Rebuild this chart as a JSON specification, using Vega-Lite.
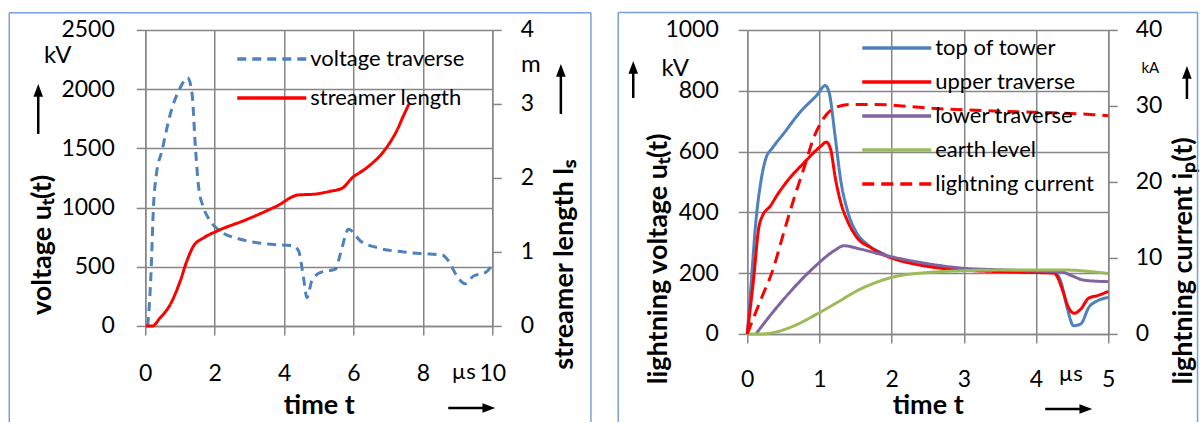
{
  "$schema": "https://vega.github.io/schema/vega-lite/v6.json",
  "autosize": {"type": "pad"},
  "padding": {"left": 8.25, "top": 10.95, "right": 1, "bottom": 1},
  "background": "white",
  "bounds": "flush",
  "spacing": 255,
  "resolve": {"scale": {"color": "independent", "strokeDash": "independent", "shape": "independent"}},
  "config": {
    "font": "Lato",
    "view": {"stroke": null},
    "axis": {"labelFont": "Lato", "labelFontSize": 23, "labelColor": "#000000", "labelFlush": false, "labelOverlap": false,
      "titleFont": "Lato", "titleFontSize": 27, "titleFontWeight": "bold", "titleColor": "#000000",
      "domainColor": "#868686", "domainWidth": 1.5, "tickColor": "#868686", "tickWidth": 1.5, "tickSize": 9,
      "gridColor": "#868686", "gridWidth": 1.5, "gridOpacity": 1},
    "legend": {"labelFont": "Lato", "labelFontSize": 22, "labelColor": "#000000"},
    "text": {"font": "Lato", "color": "#000000"}
  },
  "datasets": {
    "left": [
      {"t": 0.07, "value": 0, "series": "voltage traverse"},
      {"t": 0.1, "value": 100, "series": "voltage traverse"},
      {"t": 0.16, "value": 408, "series": "voltage traverse"},
      {"t": 0.24, "value": 1028, "series": "voltage traverse"},
      {"t": 0.32, "value": 1281, "series": "voltage traverse"},
      {"t": 0.48, "value": 1478, "series": "voltage traverse"},
      {"t": 0.72, "value": 1788, "series": "voltage traverse"},
      {"t": 1.01, "value": 2013, "series": "voltage traverse"},
      {"t": 1.22, "value": 2097, "series": "voltage traverse"},
      {"t": 1.35, "value": 1957, "series": "voltage traverse"},
      {"t": 1.44, "value": 1535, "series": "voltage traverse"},
      {"t": 1.54, "value": 1168, "series": "voltage traverse"},
      {"t": 1.68, "value": 999, "series": "voltage traverse"},
      {"t": 1.87, "value": 887, "series": "voltage traverse"},
      {"t": 2.16, "value": 802, "series": "voltage traverse"},
      {"t": 2.74, "value": 732, "series": "voltage traverse"},
      {"t": 3.41, "value": 695, "series": "voltage traverse"},
      {"t": 4.27, "value": 676, "series": "voltage traverse"},
      {"t": 4.42, "value": 633, "series": "voltage traverse"},
      {"t": 4.56, "value": 408, "series": "voltage traverse"},
      {"t": 4.66, "value": 239, "series": "voltage traverse"},
      {"t": 4.8, "value": 380, "series": "voltage traverse"},
      {"t": 5.04, "value": 450, "series": "voltage traverse"},
      {"t": 5.48, "value": 479, "series": "voltage traverse"},
      {"t": 5.62, "value": 605, "series": "voltage traverse"},
      {"t": 5.86, "value": 817, "series": "voltage traverse"},
      {"t": 6.2, "value": 718, "series": "voltage traverse"},
      {"t": 6.68, "value": 661, "series": "voltage traverse"},
      {"t": 7.44, "value": 625, "series": "voltage traverse"},
      {"t": 7.93, "value": 611, "series": "voltage traverse"},
      {"t": 8.55, "value": 600, "series": "voltage traverse"},
      {"t": 8.74, "value": 549, "series": "voltage traverse"},
      {"t": 8.98, "value": 422, "series": "voltage traverse"},
      {"t": 9.22, "value": 357, "series": "voltage traverse"},
      {"t": 9.46, "value": 422, "series": "voltage traverse"},
      {"t": 9.8, "value": 450, "series": "voltage traverse"},
      {"t": 10, "value": 515, "series": "voltage traverse"},
      {"t": 0.02, "value": 0, "series": "streamer length"},
      {"t": 0.2, "value": 0, "series": "streamer length"},
      {"t": 0.43, "value": 0.11, "series": "streamer length"},
      {"t": 0.72, "value": 0.29, "series": "streamer length"},
      {"t": 1.01, "value": 0.61, "series": "streamer length"},
      {"t": 1.2, "value": 0.88, "series": "streamer length"},
      {"t": 1.39, "value": 1.08, "series": "streamer length"},
      {"t": 1.68, "value": 1.19, "series": "streamer length"},
      {"t": 2.06, "value": 1.28, "series": "streamer length"},
      {"t": 2.93, "value": 1.44, "series": "streamer length"},
      {"t": 3.79, "value": 1.62, "series": "streamer length"},
      {"t": 4.41, "value": 1.77, "series": "streamer length"},
      {"t": 4.85, "value": 1.78, "series": "streamer length"},
      {"t": 5.33, "value": 1.82, "series": "streamer length"},
      {"t": 5.67, "value": 1.86, "series": "streamer length"},
      {"t": 5.96, "value": 2.0, "series": "streamer length"},
      {"t": 6.39, "value": 2.14, "series": "streamer length"},
      {"t": 6.92, "value": 2.39, "series": "streamer length"},
      {"t": 7.25, "value": 2.64, "series": "streamer length"},
      {"t": 7.46, "value": 2.86, "series": "streamer length"},
      {"t": 7.6, "value": 3.0, "series": "streamer length"}
    ],
    "right": [
      {"t": 0, "value": 0, "series": "top of tower"},
      {"t": 0.05, "value": 153, "series": "top of tower"},
      {"t": 0.12, "value": 371, "series": "top of tower"},
      {"t": 0.19, "value": 503, "series": "top of tower"},
      {"t": 0.26, "value": 579, "series": "top of tower"},
      {"t": 0.35, "value": 612, "series": "top of tower"},
      {"t": 0.51, "value": 661, "series": "top of tower"},
      {"t": 0.74, "value": 732, "series": "top of tower"},
      {"t": 0.97, "value": 787, "series": "top of tower"},
      {"t": 1.08, "value": 817, "series": "top of tower"},
      {"t": 1.13, "value": 798, "series": "top of tower"},
      {"t": 1.22, "value": 645, "series": "top of tower"},
      {"t": 1.29, "value": 513, "series": "top of tower"},
      {"t": 1.39, "value": 404, "series": "top of tower"},
      {"t": 1.5, "value": 339, "series": "top of tower"},
      {"t": 1.66, "value": 295, "series": "top of tower"},
      {"t": 1.85, "value": 268, "series": "top of tower"},
      {"t": 2.0, "value": 252, "series": "top of tower"},
      {"t": 2.5, "value": 225, "series": "top of tower"},
      {"t": 3.0, "value": 212, "series": "top of tower"},
      {"t": 3.5, "value": 207, "series": "top of tower"},
      {"t": 4.0, "value": 204, "series": "top of tower"},
      {"t": 4.25, "value": 202, "series": "top of tower"},
      {"t": 4.34, "value": 175, "series": "top of tower"},
      {"t": 4.43, "value": 87, "series": "top of tower"},
      {"t": 4.52, "value": 27, "series": "top of tower"},
      {"t": 4.62, "value": 33, "series": "top of tower"},
      {"t": 4.73, "value": 87, "series": "top of tower"},
      {"t": 4.85, "value": 109, "series": "top of tower"},
      {"t": 5.0, "value": 120, "series": "top of tower"},
      {"t": 0, "value": 0, "series": "upper traverse"},
      {"t": 0.09, "value": 186, "series": "upper traverse"},
      {"t": 0.16, "value": 350, "series": "upper traverse"},
      {"t": 0.21, "value": 388, "series": "upper traverse"},
      {"t": 0.32, "value": 421, "series": "upper traverse"},
      {"t": 0.42, "value": 459, "series": "upper traverse"},
      {"t": 0.555, "value": 503, "series": "upper traverse"},
      {"t": 0.785, "value": 563, "series": "upper traverse"},
      {"t": 1.016, "value": 617, "series": "upper traverse"},
      {"t": 1.095, "value": 631, "series": "upper traverse"},
      {"t": 1.155, "value": 607, "series": "upper traverse"},
      {"t": 1.22, "value": 513, "series": "upper traverse"},
      {"t": 1.29, "value": 437, "series": "upper traverse"},
      {"t": 1.39, "value": 371, "series": "upper traverse"},
      {"t": 1.52, "value": 317, "series": "upper traverse"},
      {"t": 1.71, "value": 284, "series": "upper traverse"},
      {"t": 1.85, "value": 264, "series": "upper traverse"},
      {"t": 2.0, "value": 250, "series": "upper traverse"},
      {"t": 2.5, "value": 222, "series": "upper traverse"},
      {"t": 3.0, "value": 210, "series": "upper traverse"},
      {"t": 3.5, "value": 205, "series": "upper traverse"},
      {"t": 4.0, "value": 202, "series": "upper traverse"},
      {"t": 4.25, "value": 200, "series": "upper traverse"},
      {"t": 4.29, "value": 190, "series": "upper traverse"},
      {"t": 4.37, "value": 142, "series": "upper traverse"},
      {"t": 4.45, "value": 87, "series": "upper traverse"},
      {"t": 4.53, "value": 68, "series": "upper traverse"},
      {"t": 4.62, "value": 82, "series": "upper traverse"},
      {"t": 4.73, "value": 118, "series": "upper traverse"},
      {"t": 4.85, "value": 126, "series": "upper traverse"},
      {"t": 5.0, "value": 140, "series": "upper traverse"},
      {"t": 0.12, "value": 0, "series": "lower traverse"},
      {"t": 0.37, "value": 76, "series": "lower traverse"},
      {"t": 0.65, "value": 153, "series": "lower traverse"},
      {"t": 0.92, "value": 218, "series": "lower traverse"},
      {"t": 1.2, "value": 273, "series": "lower traverse"},
      {"t": 1.34, "value": 290, "series": "lower traverse"},
      {"t": 1.57, "value": 279, "series": "lower traverse"},
      {"t": 1.85, "value": 262, "series": "lower traverse"},
      {"t": 2.4, "value": 235, "series": "lower traverse"},
      {"t": 3.0, "value": 216, "series": "lower traverse"},
      {"t": 3.5, "value": 211, "series": "lower traverse"},
      {"t": 4.02, "value": 207, "series": "lower traverse"},
      {"t": 4.34, "value": 205, "series": "lower traverse"},
      {"t": 4.5, "value": 191, "series": "lower traverse"},
      {"t": 4.66, "value": 177, "series": "lower traverse"},
      {"t": 5.0, "value": 172, "series": "lower traverse"},
      {"t": 0, "value": 0, "series": "earth level"},
      {"t": 0.19, "value": 0, "series": "earth level"},
      {"t": 0.37, "value": 5, "series": "earth level"},
      {"t": 0.65, "value": 27, "series": "earth level"},
      {"t": 0.97, "value": 66, "series": "earth level"},
      {"t": 1.25, "value": 104, "series": "earth level"},
      {"t": 1.52, "value": 142, "series": "earth level"},
      {"t": 1.85, "value": 175, "series": "earth level"},
      {"t": 2.0, "value": 186, "series": "earth level"},
      {"t": 2.5, "value": 202, "series": "earth level"},
      {"t": 3.0, "value": 208, "series": "earth level"},
      {"t": 3.5, "value": 210, "series": "earth level"},
      {"t": 4.0, "value": 210, "series": "earth level"},
      {"t": 4.45, "value": 210, "series": "earth level"},
      {"t": 4.8, "value": 204, "series": "earth level"},
      {"t": 5.0, "value": 199, "series": "earth level"},
      {"t": 0, "value": 0, "series": "lightning current"},
      {"t": 0.2, "value": 4.8, "series": "lightning current"},
      {"t": 0.35, "value": 8.3, "series": "lightning current"},
      {"t": 0.51, "value": 13.5, "series": "lightning current"},
      {"t": 0.65, "value": 17.9, "series": "lightning current"},
      {"t": 0.785, "value": 21.8, "series": "lightning current"},
      {"t": 0.92, "value": 25.8, "series": "lightning current"},
      {"t": 1.06, "value": 28.4, "series": "lightning current"},
      {"t": 1.2, "value": 29.7, "series": "lightning current"},
      {"t": 1.43, "value": 30.2, "series": "lightning current"},
      {"t": 1.75, "value": 30.2, "series": "lightning current"},
      {"t": 2.54, "value": 29.7, "series": "lightning current"},
      {"t": 3.5, "value": 29.3, "series": "lightning current"},
      {"t": 4.8, "value": 28.85, "series": "lightning current"},
      {"t": 5.0, "value": 28.7, "series": "lightning current"}
    ],
    "leftBorder": [
      {"t": -3.919, "t2": -3.919, "value": -811, "value2": 2646},
      {"t": -3.919, "t2": 12.844, "value": 2646, "value2": 2646},
      {"t": 12.844, "t2": 12.844, "value": -811, "value2": 2646}
    ],
    "leftArrows": [
      {"t": -3.084, "t2": -3.084, "value": 1622, "value2": 1985},
      {"t": 11.977, "t2": 11.977, "value": 1791, "value2": 2145},
      {"t": 8.732, "t2": 9.885, "value": -692.6, "value2": -692.6}
    ],
    "leftHeads": [
      {"t": -3.084, "value": 1976, "dir": "up"},
      {"t": 11.977, "value": 2145, "dir": "up"},
      {"t": 9.856, "value": -692.6, "dir": "right"}
    ],
    "leftUnits": [
      {"t": -2.522, "value": 2280, "text": "kV"},
      {"t": 11.11, "value": 2200, "text": "m"}
    ],
    "leftTimeUnit": [
      {"t": 9.179, "value": -392.7, "text": "µs"}
    ],
    "rightBorder": [
      {"t": -1.787, "t2": -1.787, "value": -289.5, "value2": 1057},
      {"t": -1.787, "t2": 6.237, "value": 1057, "value2": 1057},
      {"t": 6.237, "t2": 6.237, "value": -289.5, "value2": 1057}
    ],
    "rightArrows": [
      {"t": -1.579, "t2": -1.579, "value": 776.3, "value2": 871.7},
      {"t": 6.09, "t2": 6.09, "value": 773, "value2": 855.3},
      {"t": 4.127, "t2": 4.681, "value": -246.7, "value2": -246.7}
    ],
    "rightHeads": [
      {"t": -1.579, "value": 871.7, "dir": "up"},
      {"t": 6.09, "value": 855.3, "dir": "up"},
      {"t": 4.668, "value": -246.7, "dir": "right"}
    ],
    "rightUnitKV": [
      {"t": -0.997, "value": 870, "text": "kV"}
    ],
    "rightUnitKA": [
      {"t": 5.582, "value": 875, "text": "kA"}
    ],
    "rightTimeUnit": [
      {"t": 4.481, "value": -133, "text": "µs"}
    ]
  },
  "hconcat": [
    {
      "width": 347,
      "height": 296,
      "encoding": {
        "x": {"field": "t", "type": "quantitative", "scale": {"domain": [0, 10], "nice": false},
          "axis": {"values": [0, 2, 4, 6, 8, 10], "grid": true, "gridColor": "#868686", "gridWidth": 1.5, "labelPadding": 28, "title": "time t", "titleY": 80, "titleBaseline": "middle"}}
      },
      "layer": [
        {
          "data": {"name": "leftBorder"},
          "mark": {"type": "rule", "stroke": "#7aa0d4", "strokeWidth": 1.5},
          "encoding": {"x2": {"field": "t2"}, "y": {"field": "value", "type": "quantitative", "scale": {"domain": [0, 2500], "nice": false}, "axis": null}, "y2": {"field": "value2"}}
        },
        {
          "data": {"name": "left"},
          "transform": [{"filter": "datum.series === 'voltage traverse'"}],
          "mark": {"type": "line", "strokeWidth": 3, "interpolate": "monotone"},
          "encoding": {
            "y": {"field": "value", "type": "quantitative", "scale": {"domain": [0, 2500], "nice": false},
              "axis": {"orient": "left", "values": [0, 500, 1000, 1500, 2000, 2500], "format": "d", "grid": true, "gridColor": "#868686", "gridWidth": 1.5, "labelPadding": 22, "title": "voltage uₜ(t)", "titleAngle": 270, "titleX": -103, "titleY": 214.5, "titleAlign": "center", "titleBaseline": "middle"}},
            "color": {"field": "series", "type": "nominal", "scale": {"domain": ["voltage traverse", "streamer length"], "range": ["#4f81bd", "#ff0000"]},
              "legend": {"orient": "none", "legendX": 90, "legendY": 14, "title": null, "symbolType": "stroke", "symbolSize": 4761, "symbolStrokeWidth": 3.5, "labelOffset": 2, "clipHeight": 30, "rowPadding": 9, "padding": 0}},
            "strokeDash": {"field": "series", "type": "nominal", "scale": {"domain": ["voltage traverse", "streamer length"], "range": [[9, 6], [1, 0]]},
              "legend": {"orient": "none", "legendX": 90, "legendY": 14, "title": null, "symbolType": "stroke", "symbolSize": 4761, "symbolStrokeWidth": 3.5, "labelOffset": 2, "clipHeight": 30, "rowPadding": 9, "padding": 0}}
          }
        },
        {
          "data": {"name": "left"},
          "transform": [{"filter": "datum.series === 'streamer length'"}],
          "mark": {"type": "line", "strokeWidth": 3, "interpolate": "monotone"},
          "encoding": {
            "y": {"field": "value", "type": "quantitative", "scale": {"domain": [0, 4], "nice": false},
              "axis": {"orient": "right", "values": [0, 1, 2, 3, 4], "format": "d", "grid": false, "labelPadding": 19, "title": "streamer length lₛ", "titleAngle": 270, "titleX": 72, "titleY": 234.5, "titleAlign": "center", "titleBaseline": "middle"}},
            "color": {"field": "series", "type": "nominal", "scale": {"domain": ["voltage traverse", "streamer length"], "range": ["#4f81bd", "#ff0000"]},
              "legend": {"orient": "none", "legendX": 90, "legendY": 14, "title": null, "symbolType": "stroke", "symbolSize": 4761, "symbolStrokeWidth": 3.5, "labelOffset": 2, "clipHeight": 30, "rowPadding": 9, "padding": 0}},
            "strokeDash": {"field": "series", "type": "nominal", "scale": {"domain": ["voltage traverse", "streamer length"], "range": [[9, 6], [1, 0]]},
              "legend": {"orient": "none", "legendX": 90, "legendY": 14, "title": null, "symbolType": "stroke", "symbolSize": 4761, "symbolStrokeWidth": 3.5, "labelOffset": 2, "clipHeight": 30, "rowPadding": 9, "padding": 0}}
          }
        },
        {
          "data": {"name": "leftArrows"},
          "mark": {"type": "rule", "stroke": "#000000", "strokeWidth": 2.5},
          "encoding": {"x2": {"field": "t2"}, "y": {"field": "value", "type": "quantitative", "scale": {"domain": [0, 2500], "nice": false}, "axis": null}, "y2": {"field": "value2"}}
        },
        {
          "data": {"name": "leftHeads"},
          "mark": {"type": "point", "filled": true, "color": "#000000", "opacity": 1, "size": 256},
          "encoding": {
            "y": {"field": "value", "type": "quantitative", "scale": {"domain": [0, 2500], "nice": false}, "axis": null},
            "shape": {"field": "dir", "type": "nominal", "scale": {"domain": ["up", "right"], "range": ["M0,-1L0.6,0.6L-0.6,0.6Z", "M1,0L-0.6,0.6L-0.6,-0.6Z"]}, "legend": null}
          }
        },
        {
          "data": {"name": "leftUnits"},
          "mark": {"type": "text", "fontSize": 24, "align": "center", "baseline": "middle"},
          "encoding": {"y": {"field": "value", "type": "quantitative", "scale": {"domain": [0, 2500], "nice": false}, "axis": null}, "text": {"field": "text"}}
        },
        {
          "data": {"name": "leftTimeUnit"},
          "mark": {"type": "text", "fontSize": 22, "align": "center", "baseline": "middle"},
          "encoding": {"y": {"field": "value", "type": "quantitative", "scale": {"domain": [0, 2500], "nice": false}, "axis": null}, "text": {"field": "text"}}
        }
      ],
      "resolve": {"scale": {"y": "independent"}}
    },
    {
      "width": 361,
      "height": 304,
      "encoding": {
        "x": {"field": "t", "type": "quantitative", "scale": {"domain": [0, 5], "nice": false},
          "axis": {"values": [0, 1, 2, 3, 4, 5], "grid": true, "gridColor": "#868686", "gridWidth": 1.5, "labelPadding": 26, "title": "time t", "titleY": 72, "titleBaseline": "middle"}}
      },
      "layer": [
        {
          "data": {"name": "rightBorder"},
          "mark": {"type": "rule", "stroke": "#7aa0d4", "strokeWidth": 1.5},
          "encoding": {"x2": {"field": "t2"}, "y": {"field": "value", "type": "quantitative", "scale": {"domain": [0, 1000], "nice": false}, "axis": null}, "y2": {"field": "value2"}}
        },
        {
          "data": {"name": "right"},
          "transform": [{"filter": "datum.series !== 'lightning current'"}],
          "mark": {"type": "line", "strokeWidth": 3, "interpolate": "monotone"},
          "encoding": {
            "y": {"field": "value", "type": "quantitative", "scale": {"domain": [0, 1000], "nice": false},
              "axis": {"orient": "left", "values": [0, 200, 400, 600, 800, 1000], "format": "d", "grid": true, "gridColor": "#868686", "gridWidth": 1.5, "labelPadding": 20, "title": "lightning voltage uₜ(t)", "titleAngle": 270, "titleX": -89, "titleY": 228.5, "titleAlign": "center", "titleBaseline": "middle"}},
            "color": {"field": "series", "type": "nominal", "scale": {"domain": ["top of tower", "upper traverse", "lower traverse", "earth level", "lightning current"], "range": ["#4f81bd", "#ff0000", "#8064a2", "#9bbb59", "#ff0000"]},
              "legend": {"orient": "none", "legendX": 113, "legendY": 3, "title": null, "symbolType": "stroke", "symbolSize": 4761, "symbolStrokeWidth": 3.5, "labelOffset": 2, "clipHeight": 30, "rowPadding": 4, "padding": 0}},
            "strokeDash": {"field": "series", "type": "nominal", "scale": {"domain": ["top of tower", "upper traverse", "lower traverse", "earth level", "lightning current"], "range": [[1, 0], [1, 0], [1, 0], [1, 0], [12, 7]]},
              "legend": {"orient": "none", "legendX": 113, "legendY": 3, "title": null, "symbolType": "stroke", "symbolSize": 4761, "symbolStrokeWidth": 3.5, "labelOffset": 2, "clipHeight": 30, "rowPadding": 4, "padding": 0}}
          }
        },
        {
          "data": {"name": "right"},
          "transform": [{"filter": "datum.series === 'lightning current'"}],
          "mark": {"type": "line", "strokeWidth": 3, "interpolate": "monotone"},
          "encoding": {
            "y": {"field": "value", "type": "quantitative", "scale": {"domain": [0, 40], "nice": false},
              "axis": {"orient": "right", "values": [0, 10, 20, 30, 40], "format": "d", "grid": false, "labelPadding": 18, "title": "lightning current iₚ(t)", "titleAngle": 270, "titleX": 75, "titleY": 230.5, "titleAlign": "center", "titleBaseline": "middle"}},
            "color": {"field": "series", "type": "nominal", "scale": {"domain": ["top of tower", "upper traverse", "lower traverse", "earth level", "lightning current"], "range": ["#4f81bd", "#ff0000", "#8064a2", "#9bbb59", "#ff0000"]},
              "legend": {"orient": "none", "legendX": 113, "legendY": 3, "title": null, "symbolType": "stroke", "symbolSize": 4761, "symbolStrokeWidth": 3.5, "labelOffset": 2, "clipHeight": 30, "rowPadding": 4, "padding": 0}},
            "strokeDash": {"field": "series", "type": "nominal", "scale": {"domain": ["top of tower", "upper traverse", "lower traverse", "earth level", "lightning current"], "range": [[1, 0], [1, 0], [1, 0], [1, 0], [12, 7]]},
              "legend": {"orient": "none", "legendX": 113, "legendY": 3, "title": null, "symbolType": "stroke", "symbolSize": 4761, "symbolStrokeWidth": 3.5, "labelOffset": 2, "clipHeight": 30, "rowPadding": 4, "padding": 0}}
          }
        },
        {
          "data": {"name": "rightArrows"},
          "mark": {"type": "rule", "stroke": "#000000", "strokeWidth": 2.5},
          "encoding": {"x2": {"field": "t2"}, "y": {"field": "value", "type": "quantitative", "scale": {"domain": [0, 1000], "nice": false}, "axis": null}, "y2": {"field": "value2"}}
        },
        {
          "data": {"name": "rightHeads"},
          "mark": {"type": "point", "filled": true, "color": "#000000", "opacity": 1, "size": 256},
          "encoding": {
            "y": {"field": "value", "type": "quantitative", "scale": {"domain": [0, 1000], "nice": false}, "axis": null},
            "shape": {"field": "dir", "type": "nominal", "scale": {"domain": ["up", "right"], "range": ["M0,-1L0.6,0.6L-0.6,0.6Z", "M1,0L-0.6,0.6L-0.6,-0.6Z"]}, "legend": null}
          }
        },
        {
          "data": {"name": "rightUnitKV"},
          "mark": {"type": "text", "fontSize": 24, "align": "center", "baseline": "middle"},
          "encoding": {"y": {"field": "value", "type": "quantitative", "scale": {"domain": [0, 1000], "nice": false}, "axis": null}, "text": {"field": "text"}}
        },
        {
          "data": {"name": "rightUnitKA"},
          "mark": {"type": "text", "fontSize": 15, "align": "center", "baseline": "middle"},
          "encoding": {"y": {"field": "value", "type": "quantitative", "scale": {"domain": [0, 1000], "nice": false}, "axis": null}, "text": {"field": "text"}}
        },
        {
          "data": {"name": "rightTimeUnit"},
          "mark": {"type": "text", "fontSize": 22, "align": "center", "baseline": "middle"},
          "encoding": {"y": {"field": "value", "type": "quantitative", "scale": {"domain": [0, 1000], "nice": false}, "axis": null}, "text": {"field": "text"}}
        }
      ],
      "resolve": {"scale": {"y": "independent"}}
    }
  ]
}
